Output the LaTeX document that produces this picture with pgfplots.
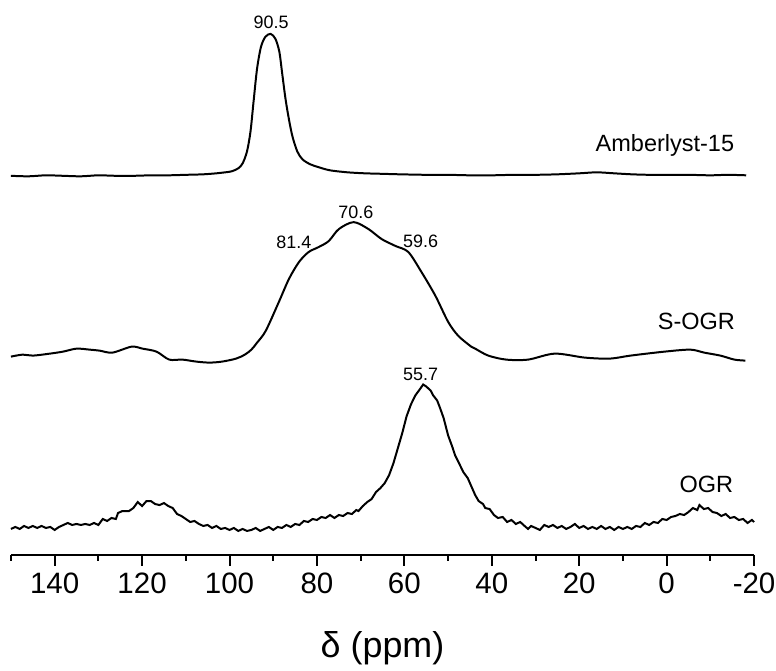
\documentclass[border=0pt]{standalone}
\usepackage{pgfplots}
\pgfplotsset{compat=1.18}
\usepackage{fontspec}
\setmainfont{Liberation Sans}

\begin{document}
\begin{tikzpicture}
\begin{axis}[
  scale only axis,
  width=373pt, height=278.5pt,
  xmin=-20, xmax=150, ymin=0, ymax=557,
  x dir=reverse,
  axis x line*=bottom,
  axis y line=none,
  xtick={-20,0,...,140},
  xticklabels={-20,0,20,40,60,80,100,120,140},
  minor xtick={-10,10,...,150},
  tick align=outside,
  major tick length=5.5pt,
  minor tick length=3pt,
  every tick/.style={black, line width=1pt},
  x axis line style={-, line width=1pt},
  xticklabel style={font=\fontsize{14.8}{18}\selectfont},
  xlabel={δ (ppm)},
  xlabel style={font=\fontsize{18}{22}\selectfont, yshift=-12pt},
  clip=false,
]
% Amberlyst-15
\addplot[black, line width=1pt, smooth, tension=0.5] coordinates {
(150,380.5) (146,380) (142,381) (138,380.5) (134,380) (130,381) (126,380.5)
(122,380.5) (118,381) (114,381) (110,381.5) (106,382) (103,383) (101,384)
(99.5,385) (98,388) (97,393) (96,405) (95.2,425) (94.5,455) (93.7,488)
(92.8,510) (91.8,520) (90.6,523) (89.5,518) (88.6,505) (88.0,485) (87.2,458)
(86.4,437) (85.6,420) (84.5,405) (83.3,397) (81.5,392) (79.5,389) (77,386)
(73,384) (69,383) (65,382.5) (61,382) (55,381.5) (50,381.5) (45,381) (40,381)
(35,381.5) (30,381.5) (25,382) (20,383) (16,384) (12,383) (8,382) (4,381.5)
(0,381.5) (-5,381.5) (-10,381) (-14,381.5) (-18.2,381)
};
% S-OGR
\addplot[black, line width=1pt, smooth, tension=0.5] coordinates {
(150,199) (147.3,201) (145.0,200) (141.1,202) (138.1,204) (135.0,207) (132.0,206)
(129.7,205) (126.8,203) (122.4,209) (119.9,207) (116.7,204) (113.8,196)
(110.8,196) (107.6,194) (104.6,193) (101.7,194) (98.5,197) (96.5,201) (95.0,206)
(93.7,213) (91.7,225) (88.7,254) (86.4,277) (84.1,294) (81.9,304) (79.6,309)
(77.3,315) (75.0,327) (71.6,334) (68.2,327) (65.2,317) (62.0,310) (59.1,304)
(56.1,284) (52.9,260) (50.0,234) (47.7,220) (44.7,209) (43.8,207) (40.8,200)
(36.7,196) (31.7,196) (25.6,202) (18.7,198) (13.0,197) (8.3,200) (0.5,204)
(-5.4,206) (-8.6,203) (-12.3,200) (-15.5,196) (-18.0,195)
};
% OGR
\addplot[black, line width=1pt] coordinates {
(150,26) (149,28) (148,26) (147,29) (146,27) (145,29) (144,27) (143,29) (142,27)
(141,28) (140,25) (139,28) (138,30) (137,32) (136,30) (135,31) (134,30) (133,31)
(132,30) (131,32) (130,30) (129,36) (128,34) (127,37) (126,36) (125.5,42)
(124.5,44) (123,44) (122,47) (121,53) (120,49) (119,54) (118,54) (117,51)
(116,50) (115,52) (114,49) (113,47) (112,41) (111,39) (110,36) (109,33) (108,34)
(107,31) (106,29) (105,30) (104,27) (103,29) (102,26) (101,27) (100,25) (99,27)
(98,24) (97,26) (96,24) (95,25) (94,27) (93,24) (92,26) (91,28) (90,25) (89,28)
(88,27) (87,30) (86,28) (85,31) (84,30) (83,34) (82,33) (81,36) (80,35) (79,38)
(78,37) (77,40) (76,37) (75,40) (74,39) (73,42) (72,41) (71,45) (70.5,44)
(69.5,49) (68.5,53) (67.5,56) (66.5,63) (65.5,67) (64.5,72) (63.5,80) (62.5,92)
(61.5,107) (60.5,122) (59.5,139) (58.5,151) (57.5,160) (56.5,166) (55.7,171)
(55,169) (54,165) (53.4,160) (52.5,155) (51.8,147) (51,137) (50,120) (49,108)
(48.4,100) (47.5,92) (46.5,83) (45.5,77) (44.5,67) (43.8,60) (43,54) (42,51)
(41.5,47) (40.5,46) (39.5,40) (38.6,37) (37.5,38) (36.5,33) (35.5,35) (34.5,31)
(33.5,33) (32.5,29) (31.7,26) (31,29) (30,27) (29,25) (28,30) (27,28) (26,30)
(25,27) (24,29) (23,26) (22,28) (21,31) (20,27) (19,29) (18,26) (17,28) (16,26)
(15,29) (14,26) (13,28) (12,25) (11,28) (10,26) (9,28) (8,26) (7,29) (6,28)
(5,32) (4,30) (3,33) (2,32) (1,36) (0,35) (-1,38) (-2,39) (-3,41) (-4,40)
(-5,43) (-6,47) (-7,45) (-7.5,50) (-8.5,46) (-9.5,47) (-10.5,43) (-11.5,42)
(-12.5,39) (-13.5,41) (-14.5,37) (-15.5,38) (-16.5,35) (-17.5,36) (-18.5,32)
(-19.5,35) (-20,33)
};
\node[anchor=base, font=\fontsize{9}{11}\selectfont] at (axis cs:90.5,528) {90.5};
\node[anchor=base, font=\fontsize{9}{11}\selectfont] at (axis cs:85.3,307.5) {81.4};
\node[anchor=base, font=\fontsize{9}{11}\selectfont] at (axis cs:71.1,337.5) {70.6};
\node[anchor=base, font=\fontsize{9}{11}\selectfont] at (axis cs:56.3,308.5) {59.6};
\node[anchor=base, font=\fontsize{9}{11}\selectfont] at (axis cs:56.3,175) {55.7};
\node[anchor=base, font=\fontsize{11.8}{14}\selectfont] at (axis cs:0.4,405) {Amberlyst-15};
\node[anchor=base, font=\fontsize{11.8}{14}\selectfont] at (axis cs:-6.8,226) {S-OGR};
\node[anchor=base, font=\fontsize{11.8}{14}\selectfont] at (axis cs:-9.1,63) {OGR};
\end{axis}
\pgfresetboundingbox
\path ([xshift=-5.5pt,yshift=-58pt]current axis.south west) rectangle ([xshift=11pt]current axis.north east);
\end{tikzpicture}
\end{document}
